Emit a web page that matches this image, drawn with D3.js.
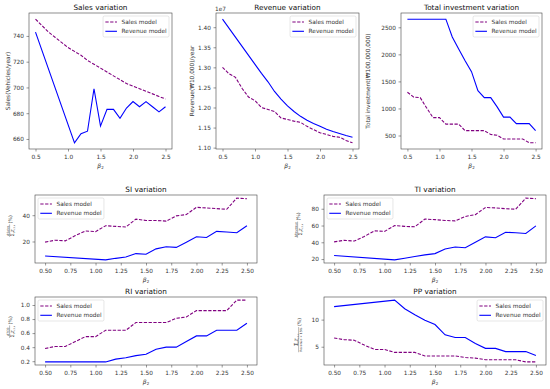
<!DOCTYPE html>
<html>
<head>
<meta charset="utf-8">
<script src="https://cdn.jsdelivr.net/npm/d3@7"></script>
<style>
body { margin: 0; background: #fff; }
text { font-family: "DejaVu Sans", sans-serif; fill: #333; }
</style>
</head>
<body>
<div id="wrap"></div>
<script>
// beta_2 values: sales model has every step, revenue model jumps from 0.5 to 1.1
var betaAll = [0.5,0.6,0.7,0.8,0.9,1.0,1.1,1.2,1.3,1.4,1.5,1.6,1.7,1.8,1.9,2.0,2.1,2.2,2.3,2.4,2.5];
var betaRev = [0.5,1.1,1.2,1.3,1.4,1.5,1.6,1.7,1.8,1.9,2.0,2.1,2.2,2.3,2.4,2.5];

// sales (vehicles/year)
var salesSM = [753,748,743,739,735,731,728,725,721,718,715,712,709,706,703,701,699,697,695,693,691];
var salesRM = [743,657,664,666,699,670,683,683,676,684,689,685,689,685,681,685];
// revenue, in units of 1e7
var revSM = [1.300,1.284,1.275,1.248,1.226,1.217,1.200,1.195,1.190,1.174,1.170,1.166,1.163,1.153,1.145,1.137,1.133,1.128,1.126,1.118,1.112];
var revRM = [1.420,1.285,1.264,1.240,1.221,1.204,1.190,1.178,1.168,1.160,1.153,1.146,1.140,1.135,1.130,1.126];
// total investment
var invSM = [1300,1210,1200,1010,830,830,710,710,710,590,590,590,590,520,505,435,435,435,435,365,365];
var invRM = [2650,2650,2320,2100,1880,1680,1330,1200,1200,1030,840,840,720,720,720,590];
// SI (%)
var siSM = [19.5,21,20.5,24.5,28,27.5,32,31.5,31,37,36,36,35.5,39.5,40.5,46,45.5,45,44.5,53,52.5];
var siRM = [9,6,7.2,8.2,10.8,10.3,14.4,16,15.5,19.5,23.6,23,27.7,27.2,26.7,32];
// TI (%)
var tiSM = [40.5,42.4,41.5,47,53.6,53,60,59,58.5,67.7,67,66,65.5,70.8,73,81.5,81,80,79.5,92.7,92];
var tiRM = [24.3,19,21,23,25,26.5,32,34.3,33.5,40,46.5,45.5,52,51.3,50.5,59.6];
// RI (%)
var riSM = [0.38,0.41,0.41,0.48,0.55,0.55,0.64,0.64,0.64,0.75,0.75,0.75,0.75,0.81,0.83,0.92,0.92,0.92,0.92,1.07,1.07];
var riRM = [0.19,0.19,0.23,0.25,0.28,0.30,0.37,0.40,0.40,0.48,0.56,0.56,0.64,0.64,0.64,0.74];
// PP (%)
var ppSM = [6.6,6.3,6.2,5.3,4.5,4.5,3.95,3.95,3.95,3.3,3.3,3.3,3.3,3.0,2.9,2.6,2.6,2.6,2.6,2.2,2.2];
var ppRM = [12.4,13.6,12.0,10.9,9.9,9.1,7.2,6.7,6.7,5.6,4.7,4.7,4.1,4.1,4.1,3.4];

var seriesNames = ['Sales model', 'Revenue model'];

var xTicksWide = [0.5,1.0,1.5,2.0,2.5],
    xTicksFine = [0.5,0.75,1.0,1.25,1.5,1.75,2.0,2.25,2.5];

var colSales = '#800080', colRev = '#0000ff';
var FS = 5.8;

var svg = d3.select('#wrap').append('svg')
      .attr('width', 550)
      .attr('height', 389);

var panels = [
  {l:29, r:172, t:13, b:149, title:'Sales variation', sm:salesSM, rm:salesRM,
   xt:xTicksWide, xf:'.1f', yt:[660,680,700,720,740], yf:'d', leg:'right', ylab:'Sales(Vehicles/year)', ylx:8},
  {l:216, r:359, t:13, b:149, title:'Revenue variation', sm:revSM, rm:revRM,
   xt:xTicksWide, xf:'.1f', yt:[1.10,1.15,1.20,1.25,1.30,1.35,1.40], yf:'.2f', leg:'right', ylab:'Revenue(\u20a910,000)/year', ylx:192},
  {l:401, r:542, t:13, b:149, title:'Total investment variation', sm:invSM, rm:invRM,
   xt:xTicksWide, xf:'.1f', yt:[500,1000,1500,2000,2500], yf:'d', leg:'right', ylab:'Total investment(\u20a9100,000,000)', ylx:368},
  {l:35, r:257, t:195, b:263, title:'SI variation', sm:siSM, rm:siRM,
   xt:xTicksFine, xf:'.2f', yt:[20,40], yf:'d', leg:'left'},
  {l:324, r:546, t:195, b:263, title:'TI variation', sm:tiSM, rm:tiRM,
   xt:xTicksFine, xf:'.2f', yt:[20,40,60,80], yf:'d', leg:'left'},
  {l:35, r:257, t:297, b:365, title:'RI variation', sm:riSM, rm:riRM,
   xt:xTicksFine, xf:'.2f', yt:[0.2,0.4,0.6,0.8,1.0], yf:'.1f', leg:'left'},
  {l:324, r:546, t:297, b:365, title:'PP variation', sm:ppSM, rm:ppRM,
   xt:xTicksFine, xf:'.2f', yt:[5,10], yf:'d', leg:'right'}
];

function axisStyle(sel) {
  sel.attr('font-family', null).attr('font-size', null);
  sel.select('.domain').remove();
  sel.selectAll('.tick line').attr('stroke', '#333').attr('stroke-width', 0.5);
  sel.selectAll('.tick text').style('font-size', FS + 'px');
}

function drawPanel(p) {
  var g = svg.append('g');
  var x = d3.scaleLinear().domain([0.4, 2.6]).range([p.l, p.r]);
  var ext = d3.extent(p.sm.concat(p.rm)),
      pad = (ext[1] - ext[0]) * 0.05;
  var y = d3.scaleLinear().domain([ext[0] - pad, ext[1] + pad]).range([p.b, p.t]);

  g.append('g')
    .attr('transform', 'translate(0,' + p.b + ')')
    .call(d3.axisBottom(x).tickValues(p.xt).tickFormat(d3.format(p.xf)).tickSize(2.5).tickPadding(3))
    .call(axisStyle);
  g.append('g')
    .attr('transform', 'translate(' + p.l + ',0)')
    .call(d3.axisLeft(y).tickValues(p.yt).tickFormat(d3.format(p.yf)).tickSize(2.5).tickPadding(2.5))
    .call(axisStyle);

  var line = d3.line()
    .x(function(d) { return x(d[0]); })
    .y(function(d) { return y(d[1]); });

  var smData = betaAll.map(function(b, i) { return [b, p.sm[i]]; }),
      rmData = betaRev.map(function(b, i) { return [b, p.rm[i]]; });

  g.append('path').datum(smData)
    .attr('d', line)
    .attr('fill', 'none')
    .attr('stroke', colSales)
    .attr('stroke-width', 1.1)
    .attr('stroke-dasharray', '3.3,1.5');
  g.append('path').datum(rmData)
    .attr('d', line)
    .attr('fill', 'none')
    .attr('stroke', colRev)
    .attr('stroke-width', 1.1);

  //frame
  g.append('rect')
    .attr('x', p.l).attr('y', p.t)
    .attr('width', p.r - p.l).attr('height', p.b - p.t)
    .attr('fill', 'none')
    .attr('stroke', '#444')
    .attr('stroke-width', 0.6);

  //title
  g.append('text')
    .attr('x', (p.l + p.r) / 2).attr('y', p.t - 3)
    .attr('text-anchor', 'middle')
    .style('font-size', '7.3px')
    .style('fill', '#111')
    .text(p.title);

  //x label
  var xl = g.append('text')
    .attr('x', (p.l + p.r) / 2).attr('y', p.b + 18.5)
    .attr('text-anchor', 'middle')
    .style('font-size', '6px');
  xl.append('tspan').style('font-style', 'italic').text('\u03b2');
  xl.append('tspan').attr('dy', 1.3).style('font-size', '4px').text('2');

  if (p.ylab) {
    g.append('text')
      .attr('transform', 'translate(' + p.ylx + ',' + ((p.t + p.b) / 2) + ') rotate(-90)')
      .attr('text-anchor', 'middle')
      .attr('dy', '0.35em')
      .style('font-size', FS + 'px')
      .text(p.ylab);
  }

  legend(p);
}

function legend(p) {
  var lg = svg.append('g');
  var box = lg.append('rect');
  var widths = [];
  var rows = [
    {c: colSales, dash: '3.3,1.5'},
    {c: colRev, dash: null}
  ];
  rows.forEach(function(r, i) {
    var t = lg.append('text')
      .attr('class', 'lt' + i)
      .attr('dy', '0.35em')
      .style('font-size', FS + 'px')
      .text(seriesNames[i]);
    widths.push(t.node().getComputedTextLength());
  });
  var w = 2.3 + 11.6 + 4.6 + d3.max(widths) + 2.3,
      h = 21;
  var x0 = p.leg === 'right' ? p.r - 3 - w : p.l + 3,
      y0 = p.t + 3;
  box.attr('x', x0).attr('y', y0).attr('width', w).attr('height', h)
    .attr('rx', 1.5)
    .attr('fill', '#fff').attr('fill-opacity', 0.8)
    .attr('stroke', '#ccc').attr('stroke-width', 0.5);
  rows.forEach(function(r, i) {
    var cy = y0 + 6 + i * 9.3;
    lg.append('line')
      .attr('x1', x0 + 2.3).attr('x2', x0 + 2.3 + 11.6)
      .attr('y1', cy).attr('y2', cy)
      .attr('stroke', r.c).attr('stroke-width', 1.1)
      .attr('stroke-dasharray', r.dash);
    lg.select('.lt' + i).attr('x', x0 + 2.3 + 11.6 + 4.6).attr('y', cy);
  });
}

panels.forEach(drawPanel);

// offset text for the revenue panel
svg.append('text').attr('x', 215).attr('y', 11).style('font-size', FS + 'px').text('1e7');

// fractional y labels of the lower panels
function fracLabel(cx, cy, fillNum, numFs, fillDen, denFs) {
  var g = svg.append('g').attr('transform', 'translate(' + cx + ',' + cy + ') rotate(-90)');
  var nt = g.append('text').attr('text-anchor', 'middle').attr('y', -1.1).style('font-size', numFs + 'px');
  fillNum(nt);
  var dt = g.append('text').attr('text-anchor', 'middle').attr('y', denFs * 0.78 + 0.3).style('font-size', denFs + 'px');
  fillDen(dt);
  var fw = Math.max(nt.node().getComputedTextLength(), dt.node().getComputedTextLength()) + 1;
  var pt = g.append('text').attr('y', 2.4).style('font-size', '4.8px').text('(%)');
  var pw = pt.node().getComputedTextLength();
  var u0 = -(fw + 1 + pw) / 2;
  nt.attr('x', u0 + fw / 2);
  dt.attr('x', u0 + fw / 2);
  g.append('line')
    .attr('x1', u0).attr('x2', u0 + fw)
    .attr('y1', -0.4).attr('y2', -0.4)
    .attr('stroke', '#333').attr('stroke-width', 0.35);
  pt.attr('x', u0 + fw + 1);
}

function sumZ(t) {
  t.append('tspan').text('\u03a3');
  t.append('tspan').attr('dy', 0.8).style('font-size', '0.45em').text('t');
  t.append('tspan').attr('dy', -0.8).style('font-style', 'italic').style('font-size', '0.8em').text('Z');
  t.append('tspan').attr('dy', 0.8).style('font-size', '0.45em').text('r,t,n');
}
function plain(s) { return function(t) { t.text(s); }; }

fracLabel(10, 226, plain('\u0394Sales'), 3, sumZ, 5);
fracLabel(298, 225, plain('\u0394Revenue'), 3, sumZ, 5);
fracLabel(10, 327, plain('\u0394TCO'), 3, sumZ, 5);
fracLabel(299, 335, sumZ, 5.5, plain('Revenue \u00d7 15%'), 3);
</script>
</body>
</html>
